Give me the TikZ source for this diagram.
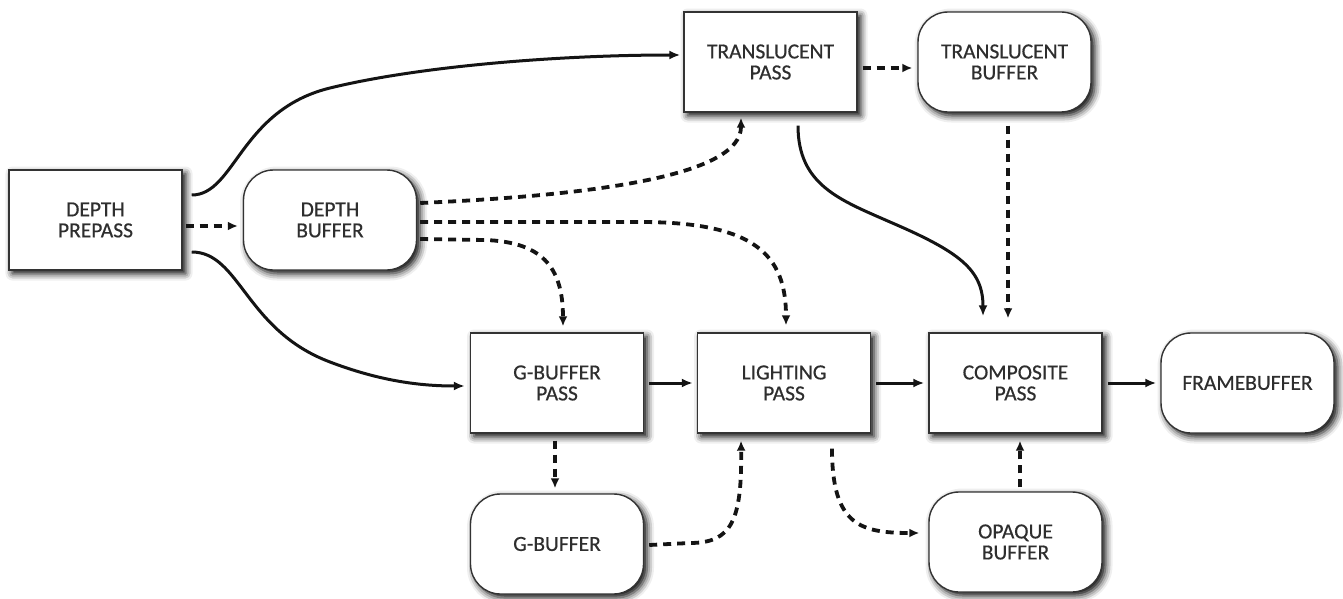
\documentclass[tikz,border=0pt]{standalone}
\usepackage{fontspec}
\newfontfamily\boxfont{Carlito}[FakeBold=0.5]
\usetikzlibrary{arrows.meta,shadows.blur}

\begin{document}
\begin{tikzpicture}[x=1pt,y=-1pt,
  box/.style={draw=black!80, line width=1.4pt, fill=white,
    minimum width=173pt, minimum height=100pt, inner sep=0pt,
    align=center, text=black!82, font=\boxfont\fontsize{21.5}{21}\selectfont,
    blur shadow={shadow xshift=3.5pt, shadow yshift=-3.5pt,
                 shadow blur radius=7pt, shadow opacity=100}},
  passbox/.style={box},
  bufbox/.style={box, rounded corners=30pt},
  flow/.style={line width=3pt, black!92, -{Latex[length=11pt,width=9pt]}},
  data/.style={line width=3.8pt, black!92, dash pattern=on 8pt off 6pt,
    -{Latex[length=10pt,width=9pt]}},
]
\useasboundingbox (0,0) rectangle (1343,599);

% passes (square boxes) and buffers (rounded boxes)
\node[passbox] (dp) at (95.5,220)  {DEPTH\\PREPASS};
\node[bufbox]  (db) at (330,220)   {DEPTH\\BUFFER};
\node[passbox] (tp) at (770.5,62)  {TRANSLUCENT\\PASS};
\node[bufbox]  (tb) at (1004.5,62) {TRANSLUCENT\\BUFFER};
\node[passbox] (gp) at (557,383)   {G-BUFFER\\PASS};
\node[passbox] (lp) at (784,383)   {LIGHTING\\PASS};
\node[passbox] (cp) at (1015.5,383) {COMPOSITE\\PASS};
\node[bufbox]  (fb) at (1247.5,383) {FRAMEBUFFER};
\node[bufbox]  (gb) at (557,544)   {G-BUFFER};
\node[bufbox]  (ob) at (1015.5,542) {OPAQUE\\BUFFER};

% solid flow between passes
\draw[flow] ([xshift=9pt,yshift=25pt]dp.east)
  .. controls (235,195) and (240,110) .. (330,88)
  .. controls (420,66) and (560,55) .. ([xshift=-3pt,yshift=7pt]tp.west);
\draw[flow] ([xshift=9pt,yshift=-32pt]dp.east)
  .. controls (240,252) and (245,330) .. (330,362)
  .. controls (380,381) and (420,386) .. ([xshift=-5pt,yshift=-3pt]gp.west);
\draw[flow] ([xshift=27.5pt,yshift=-13pt]tp.south)
  .. controls (798,185) and (840,200) .. (890,222)
  .. controls (960,252) and (983,270) .. ([xshift=-32.5pt,yshift=16pt]cp.north);
\draw[flow] ([xshift=5pt]gp.east) -- ([xshift=-4pt]lp.west);
\draw[flow] ([xshift=5pt]lp.east) -- ([xshift=-4pt]cp.west);
\draw[flow] ([xshift=5pt]cp.east) -- ([xshift=-4pt]fb.west);

% dashed data flow into and out of buffers
\draw[data] ([xshift=3pt,yshift=-6pt]dp.east) -- ([xshift=-5pt,yshift=-6pt]db.west);
\draw[data] ([xshift=3pt,yshift=17pt]db.east)
  .. controls (600,195) and (741,175) .. ([xshift=-29.5pt,yshift=-5pt]tp.south);
\draw[data] ([xshift=3pt,yshift=-2pt]db.east) -- (640,222)
  .. controls (755,222) and (786,255) .. ([xshift=2pt,yshift=7pt]lp.north);
\draw[data] ([xshift=3pt,yshift=-19pt]db.east) -- (485,240)
  .. controls (540,242) and (563,265) .. ([xshift=6pt,yshift=6pt]gp.north);
\draw[data] ([xshift=5pt,yshift=-6pt]tp.east) -- ([xshift=-5pt,yshift=-6pt]tb.west);
\draw[data] ([xshift=3.5pt,yshift=-13pt]tb.south) -- ([xshift=-7.5pt,yshift=14pt]cp.north);
\draw[data] ([xshift=-2pt,yshift=-7pt]gp.south) -- ([xshift=-2pt,yshift=5pt]gb.north);
\draw[data] ([xshift=5pt,yshift=-1pt]gb.east) -- (690,543)
  .. controls (732,543) and (742,520) .. ([xshift=-43pt,yshift=-7pt]lp.south);
\draw[data] ([xshift=48pt,yshift=-15pt]lp.south)
  .. controls (832,525) and (860,533) .. ([xshift=-9pt,yshift=9pt]ob.west);
\draw[data] ([xshift=4.5pt,yshift=4pt]ob.north) -- ([xshift=4.5pt,yshift=-7pt]cp.south);
\end{tikzpicture}
\end{document}
